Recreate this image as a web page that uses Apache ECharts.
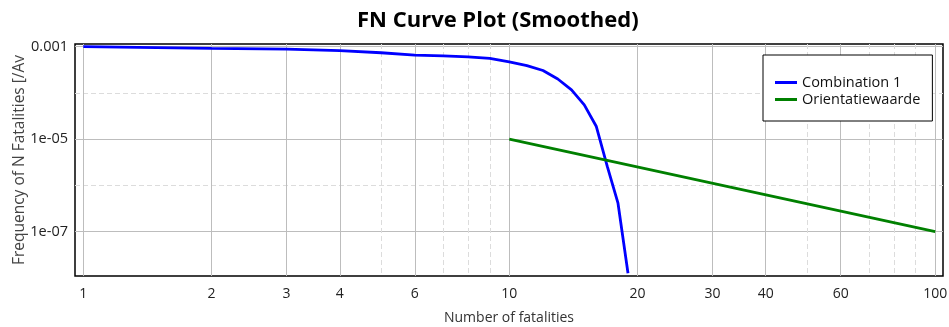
<!DOCTYPE html>
<html>
<head>
<meta charset="utf-8">
<script src="https://cdn.jsdelivr.net/npm/echarts@6/dist/echarts.min.js"></script>
<style>
  html, body { margin: 0; padding: 0; background: #fff; }
  #chart { width: 949px; height: 327px; }
</style>
</head>
<body>
<div id="chart"></div>
<script>
// FN curve
var fatalities = [1, 2, 3, 4, 5, 6, 7, 8, 9, 10, 11, 12, 13, 14, 15, 16, 17, 18, 19];
var combination1 = [1.0e-3, 9.2e-4, 8.9e-4, 8.2e-4, 7.4e-4, 6.6e-4, 6.3e-4, 6.0e-4, 5.6e-4, 4.7e-4,
                    3.9e-4, 3.05e-4, 2.0e-4, 1.16e-4, 5.5e-5, 1.9e-5, 2.5e-6, 4.1e-7, 1.25e-8];
var orientX = [10, 100];
var orientY = [1e-5, 1e-7];

var xMajor = [1, 2, 3, 4, 6, 10, 20, 30, 40, 60, 100];
var xMinor = [5, 7, 8, 9, 50, 70, 80, 90];
var yMajor = [1e-7, 1e-5, 1e-3];
var yMinor = [1e-6, 1e-4];

var font = "'Open Sans', sans-serif";

function pairs(xs, ys) {
    var out = [];
    for (var i = 0; i < xs.length; i++) out.push([xs[i], ys[i]]);
    return out;
}

function yLabel(v) {
    if (v >= 1e-3) return '0.001';
    var e = Math.round(Math.log(v) / Math.LN10);
    return '1e-' + (e < -9 ? '' : '0') + (-e);
}

var xRange = { min: 0.956, max: 104.3 };
var yRange = { min: 1.09e-8, max: 1.144e-3 };

var chart = echarts.init(document.getElementById('chart'));
var option = {
    animation: false,
    title: {
        text: 'FN Curve Plot (Smoothed)',
        left: 352, top: 5,
        textStyle: { fontFamily: font, fontSize: 22, fontWeight: 'bold', color: '#000' }
    },
    legend: {
        orient: 'vertical',
        left: 763, top: 55,
        padding: [19, 12, 13, 12],
        itemGap: 0,
        itemWidth: 22, itemHeight: 3,
        icon: 'rect',
        borderColor: '#000', borderWidth: 1,
        backgroundColor: '#fff',
        textStyle: { fontFamily: font, fontSize: 14.5, color: '#111', lineHeight: 17 },
        data: ['Combination 1', 'Orientatiewaarde']
    },
    grid: {
        left: 75, top: 44, width: 868, height: 232,
        outerBoundsMode: 'none',
        show: true, borderColor: '#000', borderWidth: 1.5, backgroundColor: 'transparent'
    },
    xAxis: [{
        type: 'log', logBase: 10,
        min: xRange.min, max: xRange.max,
        name: 'Number of fatalities', nameLocation: 'middle', nameGap: 35,
        nameTextStyle: { fontFamily: font, fontSize: 14, color: '#333' },
        axisLine: { show: false },
        axisTick: { show: false, customValues: xMajor },
        axisLabel: { customValues: xMajor, margin: 11, fontFamily: font, fontSize: 14, color: '#222' },
        splitLine: { show: true, lineStyle: { color: '#bdbdbd', width: 1 } }
    }, {
        type: 'log', logBase: 10, position: 'bottom',
        min: xRange.min, max: xRange.max,
        axisLine: { show: false },
        axisTick: { show: false, customValues: xMinor },
        axisLabel: { show: false, customValues: xMinor },
        splitLine: { show: true, lineStyle: { color: '#dcdcdc', width: 1, type: [5, 3] } }
    }],
    yAxis: [{
        type: 'log', logBase: 10,
        min: yRange.min, max: yRange.max,
        name: 'Frequency of N Fatalities [/Av', nameLocation: 'middle', nameGap: 47,
        nameMoveOverlap: false,
        nameTextStyle: { fontFamily: font, fontSize: 15.5, color: '#444' },
        axisLine: { show: false },
        axisTick: { show: false, customValues: yMajor },
        axisLabel: { customValues: yMajor, margin: 7, fontFamily: font, fontSize: 14.5, color: '#222', formatter: yLabel },
        splitLine: { show: true, lineStyle: { color: '#bdbdbd', width: 1 } }
    }, {
        type: 'log', logBase: 10, position: 'left',
        min: yRange.min, max: yRange.max,
        axisLine: { show: false },
        axisTick: { show: false, customValues: yMinor },
        axisLabel: { show: false, customValues: yMinor },
        splitLine: { show: true, lineStyle: { color: '#dcdcdc', width: 1, type: [5, 3] } }
    }],
    series: [{
        name: 'Combination 1',
        type: 'line',
        showSymbol: false,
        color: '#0000ff',
        lineStyle: { width: 2.8, color: '#0000ff' },
        data: pairs(fatalities, combination1)
    }, {
        name: 'Orientatiewaarde',
        type: 'line',
        showSymbol: false,
        color: '#008000',
        lineStyle: { width: 2.8, color: '#008000' },
        data: pairs(orientX, orientY)
    }]
};
chart.setOption(option);
</script>
</body>
</html>
